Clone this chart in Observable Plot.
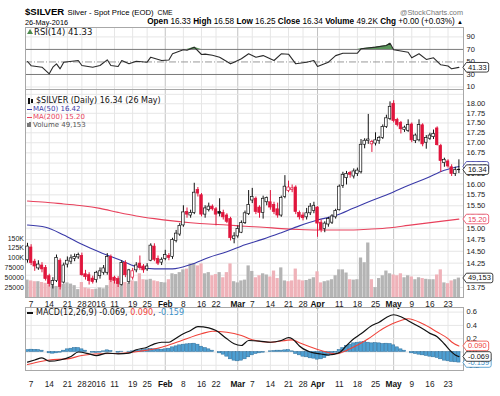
<!DOCTYPE html>
<html>
<head>
<meta charset="utf-8">
<script src="https://cdn.jsdelivr.net/npm/d3@7"></script>
<script src="https://cdn.jsdelivr.net/npm/@observablehq/plot@0.6"></script>
<style>
  html,body{margin:0;padding:0;background:#fff;}
  #wrap{position:relative;width:500px;height:396px;overflow:hidden;background:#fff;}
  #wrap svg{position:absolute;left:0;top:0;background:transparent !important;z-index:1;}
  .t{position:absolute;white-space:nowrap;line-height:1;z-index:5;}
  .hd{font-family:"Liberation Sans",Arial,sans-serif;color:#000;}
  .lg{font-family:"DejaVu Sans",Verdana,sans-serif;}
  .ic{position:absolute;z-index:5;}
</style>
</head>
<body>
<div id="wrap">
  <div class="t hd" style="left:25px;top:6.8px;font-size:9.6px;font-weight:bold;">$SILVER</div>
  <div class="t hd" style="left:67.5px;top:9.2px;font-size:7.75px;">Silver - Spot Price (EOD)</div>
  <div class="t hd" style="left:157.5px;top:10px;font-size:6.8px;">CME</div>
  <div class="t hd" style="left:400px;top:8.8px;font-size:7.3px;color:#777;">@StockCharts.com</div>
  <div class="t hd" style="left:25px;top:18.8px;font-size:7.3px;">26-May-2016</div>
  <div class="t hd" style="right:37px;top:18.2px;font-size:8.2px;text-align:right;"><b>Open</b> 16.33 <b>High</b> 16.58 <b>Low</b> 16.25 <b>Close</b> 16.34 <b>Volume</b> 49.2K <b>Chg</b> +0.00 (+0.03%) <span style="font-size:6px;">&#9650;</span></div>

  <div class="ic" style="left:27px;top:29px;width:0;height:0;border-left:3px solid transparent;border-right:3px solid transparent;border-bottom:5px solid #4d8a4d;"></div>
  <div class="t lg" style="left:34px;top:27.6px;font-size:8.5px;color:#111;">RSI(14) 41.33</div>

  <div class="ic" style="left:28px;top:97.5px;width:2px;height:6px;background:#111;"></div>
  <div class="ic" style="left:31px;top:98.5px;width:2px;height:4px;background:#111;"></div>
  <div class="t lg" style="left:36px;top:97.2px;font-size:8px;color:#111;">$SILVER (Daily) 16.34 (26 May)</div>
  <div class="ic" style="left:27px;top:108.6px;width:5px;height:1.5px;background:#3a3aa8;"></div>
  <div class="t lg" style="left:33px;top:105.9px;font-size:7px;color:#3a3aa8;">MA(50) 16.42</div>
  <div class="ic" style="left:27px;top:116.6px;width:5px;height:1.5px;background:#e8415c;"></div>
  <div class="t lg" style="left:33px;top:113.9px;font-size:7px;color:#e8415c;">MA(200) 15.20</div>
  <div class="ic" style="left:27px;top:123px;width:1.5px;height:4px;background:#777;"></div>
  <div class="ic" style="left:29px;top:122px;width:1.5px;height:5px;background:#777;"></div>
  <div class="t lg" style="left:33px;top:121.6px;font-size:7px;color:#555;">Volume 49,153</div>

  <div class="ic" style="left:27px;top:312px;width:6px;height:1.5px;background:#111;"></div>
  <div class="t lg" style="left:36px;top:308.9px;font-size:8px;color:#111;">MACD(12,26,9) -0.069, <span style="color:#f0433a">0.090</span>, <span style="color:#3a8fc8">-0.159</span></div>
</div>
<script>
// ---------------- DATA ----------------
const dates = [
  "2015-12-04",
  "2015-12-07","2015-12-08","2015-12-09","2015-12-10","2015-12-11",
  "2015-12-14","2015-12-15","2015-12-16","2015-12-17","2015-12-18",
  "2015-12-21","2015-12-22","2015-12-23","2015-12-24",
  "2015-12-28","2015-12-29","2015-12-30","2015-12-31",
  "2016-01-04","2016-01-05","2016-01-06","2016-01-07","2016-01-08",
  "2016-01-11","2016-01-12","2016-01-13","2016-01-14","2016-01-15",
  "2016-01-19","2016-01-20","2016-01-21","2016-01-22",
  "2016-01-25","2016-01-26","2016-01-27","2016-01-28","2016-01-29",
  "2016-02-01","2016-02-02","2016-02-03","2016-02-04","2016-02-05",
  "2016-02-08","2016-02-09","2016-02-10","2016-02-11","2016-02-12",
  "2016-02-16","2016-02-17","2016-02-18","2016-02-19",
  "2016-02-22","2016-02-23","2016-02-24","2016-02-25","2016-02-26",
  "2016-02-29","2016-03-01","2016-03-02","2016-03-03","2016-03-04",
  "2016-03-07","2016-03-08","2016-03-09","2016-03-10","2016-03-11",
  "2016-03-14","2016-03-15","2016-03-16","2016-03-17","2016-03-18",
  "2016-03-21","2016-03-22","2016-03-23","2016-03-24",
  "2016-03-28","2016-03-29","2016-03-30","2016-03-31","2016-04-01",
  "2016-04-04","2016-04-05","2016-04-06","2016-04-07","2016-04-08",
  "2016-04-11","2016-04-12","2016-04-13","2016-04-14","2016-04-15",
  "2016-04-18","2016-04-19","2016-04-20","2016-04-21","2016-04-22",
  "2016-04-25","2016-04-26","2016-04-27","2016-04-28","2016-04-29",
  "2016-05-02","2016-05-03","2016-05-04","2016-05-05","2016-05-06",
  "2016-05-09","2016-05-10","2016-05-11","2016-05-12","2016-05-13",
  "2016-05-16","2016-05-17","2016-05-18","2016-05-19","2016-05-20",
  "2016-05-23","2016-05-24","2016-05-25","2016-05-26"
];
const open = [
  14.31,
  14.58,14.28,14.14,14.20,14.15, 13.98,13.80,13.88,14.30,13.85, 14.22,14.28,14.34,14.37, 14.40,14.02,14.00,13.93,
  13.90,13.98,14.05,14.05,14.38, 13.95,13.92,13.80,14.25,13.86, 13.95,14.10,14.24,14.18, 14.12,14.30,14.60,14.34,14.26,
  14.34,14.40,14.38,14.72,14.86, 15.06,15.36,15.28,15.34,15.86, 15.74,15.30,15.40,15.48, 15.42,15.36,15.34,15.28,15.20, 14.76,
  14.82,14.90,15.11,15.31, 15.62,15.66,15.46,15.34,15.58, 15.58,15.52,15.42,15.28,15.70, 15.84,15.86,15.92,15.34, 15.28,15.24,15.33,15.38,
  15.46, 15.12,14.98,15.08,15.12,15.24, 15.40,15.96,16.14,16.26,16.18, 16.24,16.28,16.95,17.04,16.96, 16.98,17.04,17.12,17.40,17.60,
  18.00,17.58,17.50,17.32,17.30, 17.46,17.04,17.06,17.44,17.00, 17.10,17.14,17.36,16.92,16.50, 16.54,16.40,16.24,16.33
];
const high = [
  14.67,
  14.64,14.33,14.30,14.26,14.20, 14.02,13.95,14.42,14.34,14.25, 14.38,14.42,14.44,14.46, 14.46,14.10,14.05,13.98,
  14.08,14.15,14.20,14.45,14.42, 13.98,13.97,14.30,14.30,14.12, 14.14,14.26,14.40,14.22, 14.24,14.66,14.66,14.40,14.36,
  14.52,14.45,14.78,14.95,15.10, 15.50,15.45,15.40,16.02,15.92, 15.78,15.50,15.56,15.52, 15.46,15.66,15.40,15.32,15.24, 14.90,
  15.05,15.16,15.38,15.85, 15.90,15.70,15.50,15.72,15.70, 15.85,15.58,15.56,15.72,16.20, 16.07,15.98,15.96,15.38, 15.34,15.44,15.55,15.58,
  15.48, 15.18,15.14,15.24,15.30,15.42, 15.98,16.28,16.30,16.30,16.36, 16.38,17.08,17.10,17.72,17.06, 17.25,17.16,17.45,17.70,18.05,
  18.08,17.62,17.54,17.42,17.58, 17.50,17.22,17.58,17.48,17.18, 17.24,17.32,17.40,16.96,16.62, 16.58,16.46,16.40,16.58
];
const low = [
  14.25,
  14.20,14.08,14.10,14.05,13.88, 13.76,13.72,13.85,13.70,13.82, 14.15,14.22,14.28,14.33, 13.98,13.90,13.80,13.82,
  13.84,13.92,14.00,14.00,13.85, 13.82,13.75,13.78,13.95,13.82, 13.90,14.05,14.10,14.04, 14.08,14.28,14.28,14.20,14.20,
  14.30,14.30,14.33,14.68,14.82, 15.02,15.22,15.22,15.30,15.70, 15.25,15.22,15.36,15.38, 15.05,15.25,15.18,15.10,14.72, 14.66,
  14.78,14.88,15.08,15.28, 15.55,15.30,15.22,15.20,15.50, 15.40,15.30,15.22,15.24,15.66, 15.80,15.80,15.30,15.18, 15.16,15.18,15.28,15.32,
  14.80, 14.90,14.90,15.02,15.08,15.20, 15.38,15.90,15.98,16.14,16.12, 16.18,16.24,16.85,16.96,16.76, 16.92,16.96,17.08,17.36,17.56,
  17.50,17.40,17.22,17.26,17.26, 17.00,16.98,17.02,16.90,16.84, 17.06,17.08,16.92,16.28,16.40, 16.38,16.18,16.18,16.25
];
const close = [
  14.60,
  14.25,14.18,14.22,14.12,13.92, 13.82,13.88,14.36,13.76,14.20, 14.30,14.35,14.38,14.42, 14.00,13.96,13.88,13.86,
  14.05,14.08,14.14,14.38,13.90, 13.88,13.82,14.25,14.00,14.10, 14.08,14.20,14.15,14.10, 14.18,14.62,14.32,14.24,14.32,
  14.42,14.36,14.74,14.88,15.05, 15.35,15.30,15.34,15.80,15.78, 15.30,15.44,15.48,15.42, 15.30,15.32,15.24,15.14,14.78, 14.82,
  14.98,15.11,15.33,15.52, 15.70,15.36,15.34,15.66,15.68, 15.46,15.36,15.28,15.68,15.94, 15.92,15.90,15.36,15.24, 15.22,15.33,15.48,15.50,
  15.10, 14.96,15.10,15.20,15.26,15.38, 15.94,16.22,16.24,16.22,16.30, 16.32,16.95,17.05,17.08,17.02, 17.06,17.12,17.40,17.62,17.92,
  17.55,17.45,17.34,17.38,17.45, 17.06,17.18,17.45,16.96,17.12, 17.18,17.22,16.94,16.55,16.58, 16.42,16.24,16.33,16.34
];
// volume in thousands
const volumeK = [
  44,42,40,40,38,36,32,30,28,27,
  33,37,34,30,20,38,24,22,20,21,
  24,22,30,45,40,37,40,38,36,42,
  40,60,45,44,46,42,40,38,37,45,
  60,58,63,70,72,85,86,80,85,60,
  63,55,58,63,50,63,85,40,37,42,
  44,80,66,50,55,60,57,52,67,48,
  75,42,40,42,72,44,42,43,46,50,
  65,37,40,42,45,55,70,70,62,45,
  44,45,100,88,138,45,25,48,55,67,
  60,57,55,60,50,55,52,45,50,48,
  46,45,45,57,70,37,35,42,45,49.153
];
// moving averages read at sampled trading-day positions
const maIdx = [0,5,10,15,20,25,30,35,40,45,50,55,60,65,70,75,80,85,90,95,100,105,110,115,119];
const ma50 = [15.07,15.02,14.85,14.65,14.48,14.33,14.18,14.13,14.13,14.22,14.37,14.49,14.64,14.76,14.90,15.05,15.18,15.28,15.45,15.62,15.78,15.97,16.14,16.33,16.42];
const ma200 = [15.61,15.58,15.54,15.50,15.44,15.35,15.27,15.21,15.16,15.12,15.09,15.07,15.04,15.02,14.99,14.97,14.96,14.96,14.96,14.98,15.01,15.06,15.11,15.16,15.20];
// RSI(14)
const rsiIdx = [0,1,4,6,7,8,9,10,14,15,18,20,22,23,25,26,28,30,33,34,37,39,40,43,44,46,48,49,51,53,56,57,59,61,63,65,68,70,72,74,77,79,80,83,85,87,91,92,96,99,100,101,105,106,108,110,112,114,116,117,119];
const rsiVal = [50.7,44,41.6,31,41.6,47,39,49.6,52.3,44.3,41.6,44.3,53.4,44.3,42.7,52.3,47,51.2,49.6,57.6,52.3,53,63,69.4,68.6,73.6,61.9,62.5,60.7,57.6,47,49.6,55,63,57.6,60.1,52.3,63,62.4,47,49.6,52.3,42.7,49.6,60.1,64,64,71,73.6,76.3,79.9,69.4,65.6,56.6,63,54,56.6,45.4,43.5,39,41.33];
// MACD(12,26,9)
const macdIdx = [0,2,4,6,9,12,14,17,19,22,25,28,30,33,35,37,39,40,43,45,47,50,52,55,57,59,61,64,67,70,72,73,74,75,78,81,83,86,88,90,92,95,97,99,101,103,105,107,109,111,113,115,117,118,119];
const macdVal = [-0.153,-0.12,-0.087,-0.138,-0.12,-0.068,0.0,-0.027,-0.053,-0.018,-0.027,-0.018,0.033,0.072,0.123,0.147,0.147,0.173,0.274,0.323,0.383,0.363,0.323,0.198,0.123,0.098,0.173,0.165,0.147,0.173,0.215,0.2,0.15,0.09,0.0,-0.03,-0.045,-0.01,0.098,0.198,0.274,0.398,0.448,0.52,0.56,0.53,0.47,0.41,0.35,0.28,0.23,0.12,0.0,-0.045,-0.069];
const sigIdx = [0,4,6,11,15,20,26,31,37,42,48,51,55,59,62,67,73,75,81,85,89,94,98,103,105,109,113,116,117,119];
const sigVal = [-0.188,-0.138,-0.12,-0.103,-0.053,-0.027,-0.018,0.012,0.072,0.163,0.274,0.313,0.298,0.248,0.185,0.147,0.183,0.14,0.023,-0.027,0.048,0.198,0.349,0.474,0.5,0.424,0.3,0.2,0.15,0.09];
const hist = [
  0.03,0.035,0.033,0.03,0.02, 0.0,-0.02,-0.025,-0.02,-0.01, 0.02,0.04,0.05,0.06,0.06, 0.04,0.02,0.0,-0.01,
  -0.015,-0.01,0.01,0.025,0.015, 0.0,-0.01,0.005,0.0,0.005, 0.01,0.02,0.025,0.03,0.04, 0.045,0.04,0.04,0.035,0.04,
  0.05,0.07,0.085,0.1,0.11, 0.115,0.12,0.125,0.11,0.08, 0.06,0.04,0.02,0.0,-0.02, -0.04,-0.07,-0.11,-0.13,-0.14,
  -0.13,-0.11,-0.08,-0.05,-0.03, -0.02,-0.01,0.0,0.01,0.015, 0.02,0.02,0.025,0.03,0.01, -0.03,-0.05,-0.07,-0.08,-0.095,
  -0.1,-0.115,-0.11,-0.09,-0.06, -0.04,-0.01,0.03,0.06,0.09, 0.11,0.13,0.14,0.145,0.15, 0.14,0.13,0.135,0.13,0.12,
  0.125,0.12,0.1,0.07,0.04, 0.02,0.0,-0.02,-0.03,-0.04, -0.05,-0.06,-0.07,-0.08,-0.09, -0.11,-0.13,-0.14,-0.15,-0.155,
  -0.159
];
// axis ticks
const tickDates = ["2015-12-07","2015-12-14","2015-12-21","2015-12-28","2016-01-04","2016-01-11","2016-01-19","2016-01-25","2016-02-01","2016-02-08","2016-02-16","2016-02-22","2016-03-01","2016-03-07","2016-03-14","2016-03-21","2016-03-28","2016-04-01","2016-04-11","2016-04-18","2016-04-25","2016-05-02","2016-05-09","2016-05-16","2016-05-23"];
const tickLabels = ["7","14","21","28","2016","11","19","25","Feb","8","16","22","Mar","7","14","21","28","Apr","11","18","25","May","9","16","23"];
const priceTicks = [13.75,14,14.25,14.5,14.75,15,15.25,15.5,15.75,16,16.25,16.5,16.75,17,17.25,17.5,17.75,18];
const priceGrid = [13.75,14,14.25,14.5,14.75,15,15.25,15.5,15.75,16,16.25,16.5,16.75,17,17.25,17.5,17.75,18,18.25];
const volTicksK = [25,50,75,100,125,150];
const rsiTicks = [90,70,50,30,10];
const macdTicks = [0.6,0.4,0.2,0,-0.2];
const boxLabels = ["41.33","49,153","15.20","16.42","16.34","0.090","-0.159","-0.069"];

// ---------------- BUILD ----------------
const RED = "#e0153c", BLUE = "#3a3aa8", MA200C = "#e8415c";
const GRID = "#e6e6e6", MGRID = "#c2c2c2", FRAME = "#a8a8a8";
const lastDate = dates[dates.length - 1];
const ticks = tickDates.map((d, i) => ({date: d, label: tickLabels[i], bold: isNaN(+tickLabels[i])}));
const monthDates = ticks.filter(t => t.bold).map(t => t.date);
const weekDates = ticks.filter(t => !t.bold).map(t => t.date);

const candles = dates.map((d, i) => {
  const up = i === 0 ? close[i] >= open[i] : close[i] >= close[i - 1];
  const col = up ? "#111" : RED;
  return {date: d, o: open[i], h: high[i], l: low[i], c: close[i], col, fillc: close[i] > open[i] ? "#fff" : col,
          v: volumeK[i], vcol: up ? "#b4b4b4" : "#efb2b9"};
});
const pts = (idx, vals) => idx.map((i, k) => ({date: dates[i], v: vals[k]}));
const ma50Data = pts(maIdx, ma50), ma200Data = pts(maIdx, ma200);
const rsiData = pts(rsiIdx, rsiVal);
const macdData = pts(macdIdx, macdVal), sigData = pts(sigIdx, sigVal);
const histData = dates.map((d, i) => ({date: d, v: hist[i]}));

const FONT = "'Liberation Sans', Arial, sans-serif";
function panel(top, bottom, y, marks) {
  return Plot.plot({
    width: 500, height: 396,
    marginLeft: 25, marginRight: 37, marginTop: top, marginBottom: 396 - bottom,
    x: {type: "band", domain: dates, range: [25, 460.4], padding: 0.1, axis: null},
    y: Object.assign({axis: null}, y),
    color: {type: "identity"},
    style: {background: "transparent", fontFamily: FONT, overflow: "visible"},
    marks
  });
}
const vgrid = () => [
  Plot.ruleX(weekDates, {stroke: GRID, strokeWidth: 1}),
  Plot.ruleX(monthDates, {stroke: MGRID, strokeWidth: 1})
];
const xLabels = (dy) => [
  Plot.text(ticks.filter(t => !t.bold), {x: "date", text: "label", frameAnchor: "bottom", lineAnchor: "middle", dy, fontSize: 8.3, fill: "#222"}),
  Plot.text(ticks.filter(t => t.bold), {x: "date", text: "label", frameAnchor: "bottom", lineAnchor: "middle", dy, fontSize: 8.3, fontWeight: "bold", fill: "#111"})
];
const rightLabels = (vals, fmt) => Plot.text(vals, {y: d => d, text: fmt, frameAnchor: "right", textAnchor: "start", dx: 3, fontSize: 7.5, fill: "#222"});
const vbox = (d, color) => Plot.text([d], {x: "date", y: "v", text: "t", dx: 9, textAnchor: "start", fontSize: 7.5, fill: color});

// RSI panel
const rsiPlot = panel(27, 89, {domain: [6, 105]}, [
  ...vgrid(),
  Plot.ruleY([90, 10], {stroke: GRID}),
  Plot.ruleY([70, 30], {stroke: "#7a7a7a"}),
  Plot.ruleY([50], {stroke: "#9a9a9a", strokeDasharray: "7,2,1,2"}),
  Plot.areaY(rsiData, {x: "date", y1: 70, y2: d => Math.max(70, d.v), fill: "#5a965a"}),
  Plot.line(rsiData, {x: "date", y: "v", stroke: "#2a2a2a", strokeWidth: 1.1}),
  rightLabels(rsiTicks, d => String(d)),
  Plot.frame({stroke: FRAME}),
  vbox({date: lastDate, v: 41.33, t: "41.33"}, "#111")
]);

// Main panel: grid + price axis
const gridPlot = panel(89, 297, {type: "log", domain: [13.55, 18.38]}, [
  ...vgrid(),
  Plot.ruleY(priceGrid, {stroke: GRID}),
  rightLabels(priceTicks, d => d.toFixed(2)),
  ...xLabels(6.5),
  Plot.frame({stroke: FRAME})
]);

// Volume overlay
const volPlot = panel(89, 297, {domain: [0, 526.6]}, [
  Plot.barY(candles, {x: "date", y: "v", fill: "vcol"}),
  Plot.text(volTicksK, {y: d => d, text: d => d >= 100 ? d + "K" : String(d * 1000), frameAnchor: "left", textAnchor: "end", dx: -1.5, fontSize: 7, fill: "#222"}),
  vbox({date: lastDate, v: volumeK[volumeK.length - 1], t: "49,153"}, "#111")
]);

// Candles + moving averages
const pricePlot = panel(89, 297, {type: "log", domain: [13.55, 18.38]}, [
  Plot.line(ma200Data, {x: "date", y: "v", stroke: MA200C, strokeWidth: 1.1, curve: "monotone-x"}),
  Plot.line(ma50Data, {x: "date", y: "v", stroke: BLUE, strokeWidth: 1.1, curve: "monotone-x"}),
  Plot.ruleX(candles, {x: "date", y1: "l", y2: "h", stroke: "col", strokeWidth: 1}),
  Plot.barY(candles, {x: "date", y1: "o", y2: "c", fill: "fillc", stroke: "col", strokeWidth: 0.7, insetLeft: 0.35, insetRight: 0.35}),
  vbox({date: lastDate, v: 15.20, t: "15.20"}, MA200C),
  vbox({date: lastDate, v: 16.42, t: "16.42"}, BLUE),
  vbox({date: lastDate, v: 16.34, t: "16.34"}, "#111")
]);

// MACD panel
const macdPlot = panel(307, 370, {domain: [-0.278, 0.669]}, [
  ...vgrid(),
  Plot.ruleY(macdTicks, {stroke: GRID}),
  Plot.barY(histData, {x: "date", y: "v", fill: "#4d9fd2", stroke: "#2c6d99", strokeWidth: 0.5}),
  Plot.line(sigData, {x: "date", y: "v", stroke: "#f0433a", strokeWidth: 1.1, curve: "monotone-x"}),
  Plot.line(macdData, {x: "date", y: "v", stroke: "#111", strokeWidth: 1.2, curve: "monotone-x"}),
  rightLabels(macdTicks, d => d.toFixed(1)),
  ...xLabels(13.5),
  Plot.frame({stroke: FRAME}),
  vbox({date: lastDate, v: 0.090, t: "0.090"}, "#f0433a"),
  vbox({date: lastDate, v: -0.159, t: "-0.159"}, "#3a8fc8"),
  vbox({date: lastDate, v: -0.069, t: "-0.069"}, "#111")
]);

const wrap = document.getElementById("wrap");
const first = wrap.firstChild;
[rsiPlot, gridPlot, volPlot, pricePlot, macdPlot].forEach(p => wrap.insertBefore(p, first));

// draw outlined, left-pointing value boxes behind the right-edge value labels
function colorOf(el) {
  while (el && el.getAttribute) {
    const f = el.getAttribute("fill");
    if (f && f !== "none" && f !== "currentColor") return f;
    el = el.parentNode;
  }
  return "#111";
}
function boxify(svg) {
  Array.from(svg.querySelectorAll("text")).forEach(t => {
    if (!boxLabels.includes(t.textContent.trim())) return;
    const b = t.getBBox();
    const color = colorOf(t);
    const x0 = b.x - 1.5, x1 = b.x + b.width + 2, y0 = b.y - 0.3, y1 = b.y + b.height + 0.3, cy = (y0 + y1) / 2;
    const p = document.createElementNS("http://www.w3.org/2000/svg", "path");
    p.setAttribute("d", `M${x0 - 3.5},${cy}L${x0},${y0}H${x1 - 2}Q${x1},${y0} ${x1},${y0 + 2}V${y1 - 2}Q${x1},${y1} ${x1 - 2},${y1}H${x0}Z`);
    p.setAttribute("fill", "#fff"); p.setAttribute("stroke", color); p.setAttribute("stroke-width", 0.8);
    const tr = t.getAttribute("transform"); if (tr) p.setAttribute("transform", tr);
    t.parentNode.insertBefore(p, t);
  });
}
[rsiPlot, volPlot, pricePlot, macdPlot].forEach(boxify);
</script>
</body>
</html>
